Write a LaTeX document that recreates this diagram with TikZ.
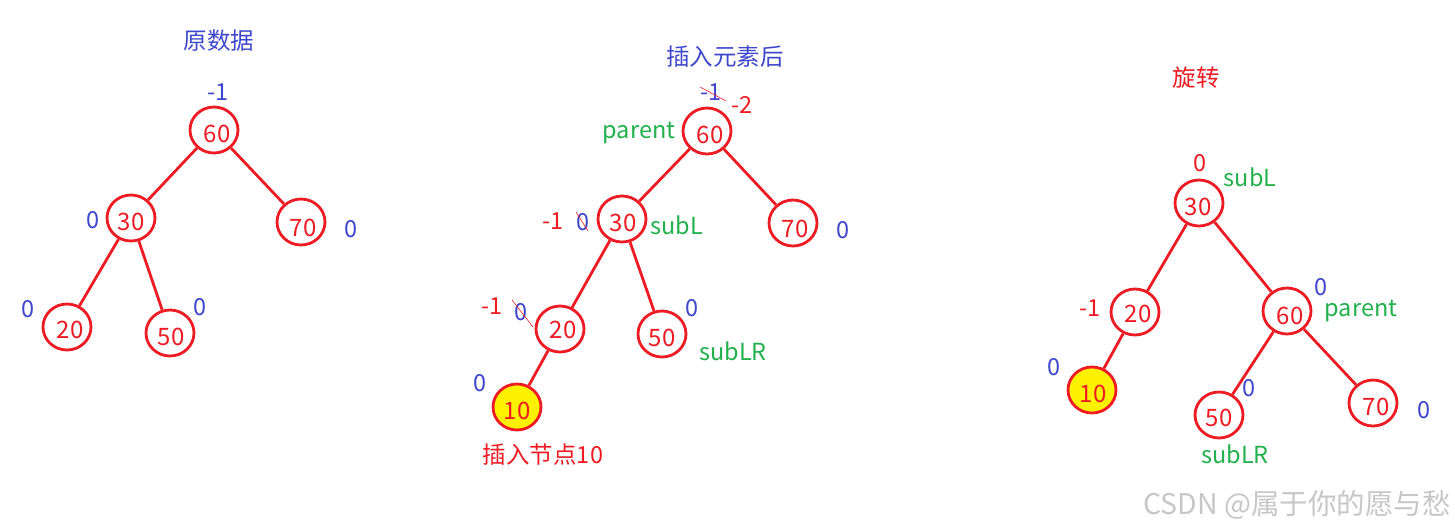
\documentclass[tikz,border=0pt]{standalone}
\usepackage{fontspec}
\setmainfont{Noto Sans CJK SC}
\usetikzlibrary{shapes.geometric}
\definecolor{pred}{HTML}{ED1C24}
\definecolor{pblue}{HTML}{3F48CC}
\definecolor{pgreen}{HTML}{22B14C}
\definecolor{pyellow}{HTML}{FFF200}
\begin{document}
\begin{tikzpicture}[x=1pt,y=-1pt,
  tn/.style={ellipse,draw=pred,line width=2.8pt,minimum width=48pt,minimum height=46pt,inner sep=0pt},
  newn/.style={tn,fill=pyellow},
  num/.style={text=pred,font=\fontsize{24}{24}\selectfont,inner sep=0pt},
  edge/.style={draw=pred,line width=2.8pt},
  bl/.style={text=pblue,font=\fontsize{23.5}{23.5}\selectfont,inner sep=0pt},
  rd/.style={text=pred,font=\fontsize{23.5}{23.5}\selectfont,inner sep=0pt},
  gr/.style={text=pgreen,font=\fontsize{23.5}{23.5}\selectfont,inner sep=0pt},
  strike/.style={draw=pred,line width=0.6pt}]
\useasboundingbox (0,0) rectangle (1455,531);
\fill[white] (0,0) rectangle (1455,531);
% ---------- left tree ----------
\node[bl] (t1) at (219,41) {原数据};
\node (a60) [tn] at (214,130) {};
\node (a30) [tn] at (131,218) {};
\node (a70) [tn] at (301,222) {};
\node (a20) [tn] at (67,327) {};
\node (a50) [tn] at (170,333) {};
\node[num] (a60t) at (217,134) {60};
\node[num] (a30t) at (131,222) {30};
\node[num] (a70t) at (303,228) {70};
\node[num] (a20t) at (70,330) {20};
\node[num] (a50t) at (171,337) {50};
\draw[edge] (a60) -- (a30);
\draw[edge] (a60) -- (a70);
\draw[edge] (a30) -- (a20);
\draw[edge] (a30) -- (a50);
\node[bl] (ab60) at (218,92) {-1};
\node[bl] (ab30) at (93,220) {0};
\node[bl] (ab70) at (351,229) {0};
\node[bl] (ab20) at (28,309) {0};
\node[bl] (ab50) at (200,307) {0};
% ---------- middle tree ----------
\node[bl] (t2) at (725,57) {插入元素后};
\node (b60) [tn] at (707,131) {};
\node (b30) [tn] at (622,219) {};
\node (b70) [tn] at (793,223) {};
\node (b20) [tn] at (560,329) {};
\node (b50) [tn] at (662,334) {};
\node (b10) [newn] at (517,407) {};
\node[num] (b60t) at (710,135) {60};
\node[num] (b30t) at (623,223) {30};
\node[num] (b70t) at (795,229) {70};
\node[num] (b20t) at (563,330) {20};
\node[num] (b50t) at (662,338) {50};
\node[num] (b10t) at (517,411) {10};
\draw[edge] (b60) -- (b30);
\draw[edge] (b60) -- (b70);
\draw[edge] (b30) -- (b20);
\draw[edge] (b30) -- (b50);
\draw[edge] (b20) -- (b10);
\node[bl] (bb60) at (711,92) {-1};
\coordinate (s1a) at (700,87); \coordinate (s1b) at (726,101);
\draw[strike] (s1a) -- (s1b);
\node[rd] (bn60) at (742,105) {-2};
\node[gr] (bp) at (639,133) {parent};
\node[rd] (bn30) at (553,221) {-1};
\node[bl] (bb30) at (583,222) {0};
\coordinate (s2a) at (576,212); \coordinate (s2b) at (588,231);
\draw[strike] (s2a) -- (s2b);
\node[gr] (bsl) at (677,225) {subL};
\node[bl] (bb70) at (843,230) {0};
\node[rd] (bn20) at (492,306) {-1};
\node[bl] (bb20) at (521,312) {0};
\coordinate (s3a) at (512,300); \coordinate (s3b) at (533,327);
\draw[strike] (s3a) -- (s3b);
\node[bl] (bb50) at (692,308) {0};
\node[gr] (bslr) at (733,351) {subLR};
\node[bl] (bb10) at (480,383) {0};
\node[rd] (bins) at (543,455) {插入节点10};
% ---------- right tree ----------
\node[rd] (t3) at (1196,78) {旋转};
\node (c30) [tn] at (1199,203) {};
\node (c20) [tn] at (1135,312) {};
\node (c60) [tn] at (1287,311) {};
\node (c10) [newn] at (1092,390) {};
\node (c50) [tn] at (1219,415) {};
\node (c70) [tn] at (1373,403) {};
\node[num] (c30t) at (1198,207) {30};
\node[num] (c20t) at (1138,314) {20};
\node[num] (c60t) at (1290,316) {60};
\node[num] (c10t) at (1093,394) {10};
\node[num] (c50t) at (1219,418) {50};
\node[num] (c70t) at (1376,407) {70};
\draw[edge] (c30) -- (c20);
\draw[edge] (c30) -- (c60);
\draw[edge] (c20) -- (c10);
\draw[edge] (c60) -- (c50);
\draw[edge] (c60) -- (c70);
\node[rd] (cn30) at (1200,163) {0};
\node[gr] (csl) at (1250,177) {subL};
\node[rd] (cn20) at (1090,308) {-1};
\node[bl] (cb60) at (1321,287) {0};
\node[gr] (cp) at (1361,311) {parent};
\node[bl] (cb10) at (1054,367) {0};
\node[bl] (cb50) at (1249,388) {0};
\node[gr] (cslr) at (1235,454) {subLR};
\node[bl] (cb70) at (1424,410) {0};
% ---------- watermark ----------
\node[text=black!22,font=\fontsize{28.5}{28.5}\selectfont,inner sep=0pt,anchor=east] (wm) at (1451,505) {CSDN @属于你的愿与愁};
\end{tikzpicture}
\end{document}
